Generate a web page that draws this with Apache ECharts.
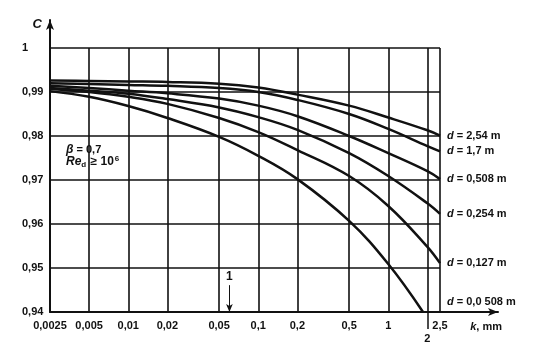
<!DOCTYPE html>
<html><head><meta charset="utf-8">
<script src="https://cdn.jsdelivr.net/npm/echarts@6/dist/echarts.min.js"></script>
<style>html,body{margin:0;padding:0;background:#fff}#c{width:544px;height:358px}</style>
</head><body><div id="c"></div>
<script>
// ---- data ----
const kTicks = [0.0025, 0.005, 0.01, 0.02, 0.05, 0.1, 0.2, 0.5, 1, 2, 2.5];
const kTickLabels = ['0,0025', '0,005', '0,01', '0,02', '0,05', '0,1', '0,2', '0,5', '1', '2', '2,5'];
const cMin = 0.94, cMax = 1, cStep = 0.01;

const kGrid = [0.0025, 0.005, 0.01, 0.02, 0.05, 0.1, 0.2, 0.5, 1, 2, 2.5];
const c_d254  = [0.9926, 0.9925, 0.9924, 0.9923, 0.9919, 0.9910, 0.9894, 0.9869, 0.9842, 0.9813, 0.9801];
const c_d170  = [0.9920, 0.9918, 0.9916, 0.9914, 0.9909, 0.9900, 0.9882, 0.9850, 0.9816, 0.9777, 0.9765];
const c_d0508 = [0.9914, 0.9909, 0.9903, 0.9897, 0.9885, 0.9869, 0.9845, 0.9800, 0.9761, 0.9720, 0.9702];
const c_d0254 = [0.9909, 0.9903, 0.9896, 0.9884, 0.9865, 0.9843, 0.9814, 0.9761, 0.9709, 0.9647, 0.9623];
const c_d0127 = [0.9907, 0.9900, 0.9889, 0.9873, 0.9841, 0.9809, 0.9768, 0.9709, 0.9641, 0.9548, 0.9511];
const k_d00508 = [0.0025, 0.005, 0.01, 0.02, 0.05, 0.1, 0.2, 0.5, 1, 1.85];
const c_d00508 = [0.9902, 0.9889, 0.9868, 0.9841, 0.9798, 0.9755, 0.9702, 0.9607, 0.9509, 0.9400];

const curveLabels = ['2,54 m', '1,7 m', '0,508 m', '0,254 m', '0,127 m', '0,0 508 m'];
const annotationK = 0.06;
const annotationLabel = '1';

// ---- chart ----
const FONT = 'Liberation Sans';
const BLACK = '#111';
function zip(ks, cs) { return ks.map((k, i) => [k, cs[i]]); }
function kLabel(v) {
  let best = 0, bd = Infinity;
  kTicks.forEach((t, i) => { const d = Math.abs(Math.log(v) - Math.log(t)); if (d < bd) { bd = d; best = i; } });
  return kTickLabels[best];
}
const richLbl = {
  i: { fontStyle: 'italic', fontWeight: 'bold', fontSize: 11, fontFamily: FONT, color: BLACK },
  n: { fontWeight: 'bold', fontSize: 11, fontFamily: FONT, color: BLACK }
};
function curve(name, ks, cs, idx, offset) {
  return {
    type: 'line', name: name, xAxisIndex: 0, yAxisIndex: 0,
    data: zip(ks, cs), showSymbol: false, symbol: 'none', smooth: 0.4,
    lineStyle: { color: BLACK, width: 2.5 },
    endLabel: {
      show: true, distance: 7, offset: offset || [0, 0],
      formatter: '{i|d}{n| = ' + curveLabels[idx] + '}', rich: richLbl
    },
    z: 5
  };
}
const labelValues = kTicks.filter(v => v !== 2);

const option = {
  animation: false,
  backgroundColor: '#fff',
  grid: [
    { left: 50, top: 48, right: 104, bottom: 46 },
    { left: 50, top: 20, right: 46, bottom: 46 },
    { left: 50, top: 48, right: 104, bottom: 46 }
  ],
  xAxis: [
    {
      type: 'log', gridIndex: 0, min: 0.0025, max: 2.5, logBase: 10,
      axisLine: { show: false },
      axisTick: { show: false, customValues: kTicks },
      splitLine: { show: true, lineStyle: { color: BLACK, width: 1.6 } },
      axisLabel: {
        customValues: labelValues, formatter: v => kLabel(v), margin: 8,
        fontFamily: FONT, fontWeight: 'bold', fontSize: 11, color: BLACK
      }
    },
    {
      type: 'value', gridIndex: 1, min: 0, max: 1,
      axisLine: { show: true, symbol: ['none', 'arrow'], symbolSize: [6, 10], lineStyle: { color: BLACK, width: 2 } },
      axisTick: { show: false }, axisLabel: { show: false }, splitLine: { show: false },
      name: '{i|k}{n|, mm}', nameLocation: 'end', nameGap: 4,
      nameTextStyle: { align: 'right', verticalAlign: 'top', padding: [9, 0, 0, 0], rich: richLbl }
    },
    {
      type: 'log', gridIndex: 2, min: 0.0025, max: 2.5, logBase: 10,
      axisLine: { show: false },
      axisTick: { show: true, customValues: [2], length: 17, lineStyle: { color: BLACK, width: 1.5 } },
      splitLine: { show: false },
      axisLabel: {
        customValues: [2], formatter: v => kLabel(v), margin: 21,
        fontFamily: FONT, fontWeight: 'bold', fontSize: 11, color: BLACK
      }
    }
  ],
  yAxis: [
    {
      type: 'value', gridIndex: 0, min: cMin, max: cMax, interval: cStep,
      axisLine: { show: false }, axisTick: { show: false },
      splitLine: { show: true, lineStyle: { color: BLACK, width: 1.6 } },
      axisLabel: {
        align: 'left', margin: 28,
        formatter: v => Math.abs(v - 1) < 1e-9 ? '1' : v.toFixed(2).replace('.', ','),
        fontFamily: FONT, fontWeight: 'bold', fontSize: 11, color: BLACK
      }
    },
    {
      type: 'value', gridIndex: 1, min: 0, max: 1,
      axisLine: { show: true, symbol: ['none', 'arrow'], symbolSize: [6, 10], lineStyle: { color: BLACK, width: 2 } },
      axisTick: { show: false }, axisLabel: { show: false }, splitLine: { show: false },
      name: '{c|C}', nameLocation: 'end', nameGap: -4,
      nameTextStyle: { align: 'right', verticalAlign: 'middle', padding: [0, 8, 0, 0],
        rich: { c: { fontStyle: 'italic', fontWeight: 'bold', fontSize: 13, fontFamily: FONT, color: BLACK } } }
    },
    {
      type: 'value', gridIndex: 2, min: cMin, max: cMax, show: false
    }
  ],
  graphic: [
    {
      type: 'text', left: 66, top: 144, z: 10,
      style: {
        text: '{b|β}{n| = 0,7}', fill: BLACK,
        rich: {
          b: { fontStyle: 'italic', fontWeight: 'bold', fontSize: 12, fontFamily: FONT, fill: BLACK },
          n: { fontWeight: 'bold', fontSize: 11, fontFamily: FONT, fill: BLACK }
        }
      }
    },
    {
      type: 'text', left: 66, top: 155, z: 10,
      style: {
        text: '{i|Re}{s|d}{n| ≥ 10}{p|6}', fill: BLACK,
        rich: {
          i: { fontStyle: 'italic', fontWeight: 'bold', fontSize: 12, fontFamily: FONT, fill: BLACK, lineHeight: 14 },
          n: { fontWeight: 'bold', fontSize: 12, fontFamily: FONT, fill: BLACK, lineHeight: 14 },
          s: { fontWeight: 'bold', fontSize: 8, fontFamily: FONT, fill: BLACK, verticalAlign: 'bottom', lineHeight: 14, padding: [5, 1, 0, 0] },
          p: { fontWeight: 'bold', fontSize: 8, fontFamily: FONT, fill: BLACK, verticalAlign: 'top', lineHeight: 14, padding: [0, 0, 5, 1] }
        }
      }
    }
  ],
  series: [
    curve('d254', kGrid, c_d254, 0),
    curve('d170', kGrid, c_d170, 1),
    curve('d0508', kGrid, c_d0508, 2),
    curve('d0254', kGrid, c_d0254, 3),
    curve('d0127', kGrid, c_d0127, 4),
    curve('d00508', k_d00508, c_d00508, 5, [17, -10]),
    {
      type: 'line', xAxisIndex: 0, yAxisIndex: 0, data: [], silent: true,
      markLine: {
        silent: true, symbol: ['none', 'arrow'], symbolSize: [5, 8],
        lineStyle: { color: BLACK, width: 1, type: 'solid' },
        label: { show: true, position: 'start', formatter: annotationLabel, distance: 2,
          fontFamily: FONT, fontWeight: 'bold', fontSize: 12, color: BLACK },
        data: [[{ coord: [annotationK, 0.9461] }, { coord: [annotationK, cMin] }]]
      }
    }
  ]
};
const chart = echarts.init(document.getElementById('c'), null, { renderer: 'canvas' });
chart.setOption(option);
</script>
</body></html>
